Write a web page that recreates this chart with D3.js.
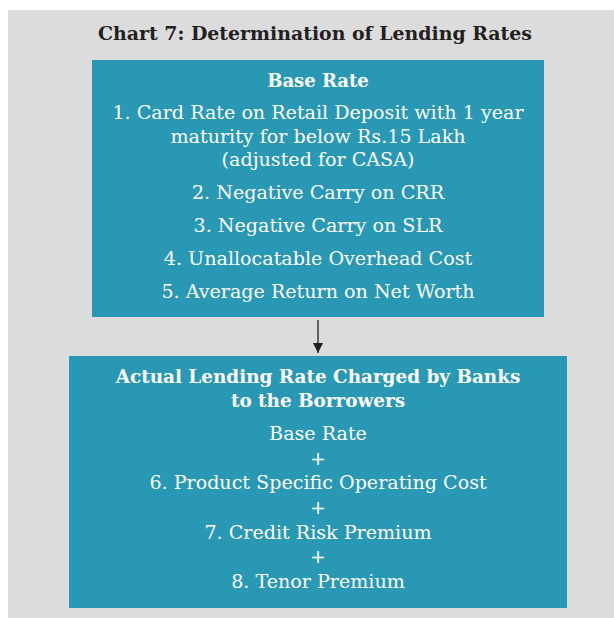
<!DOCTYPE html>
<html>
<head>
<meta charset="utf-8">
<script src="https://cdn.jsdelivr.net/npm/d3@7"></script>
<style>
  body { margin: 0; background: #fff; }
  svg { display: block; }
</style>
</head>
<body>
<svg id="chart"></svg>
<script>
// chart text
const title = "Chart 7: Determination of Lending Rates";
const baseHeader = ["Base Rate"];
const baseItems = [
  ["1. Card Rate on Retail Deposit with 1 year", "maturity for below Rs.15 Lakh", "(adjusted for CASA)"],
  ["2. Negative Carry on CRR"],
  ["3. Negative Carry on SLR"],
  ["4. Unallocatable Overhead Cost"],
  ["5. Average Return on Net Worth"]
];
const lendHeader = ["Actual Lending Rate Charged by Banks", "to the Borrowers"];
const lendItems = ["Base Rate", "+", "6. Product Specific Operating Cost", "+", "7. Credit Risk Premium", "+", "8. Tenor Premium"];

const W = 614, H = 618;
const teal = "#2898b4";
const font = "'DejaVu Serif', serif";

const svg = d3.select("#chart").attr("width", W).attr("height", H);

// grey panel
svg.append("rect").attr("x", 8).attr("y", 10).attr("width", W - 8).attr("height", H - 10)
  .attr("fill", "#dcdcdc");

const cx = 318;

svg.append("text").attr("x", 315).attr("y", 40)
  .attr("text-anchor", "middle").attr("font-family", font).attr("font-weight", "bold")
  .attr("font-size", 18.9).attr("fill", "#231f20").text(title);

// top box
svg.append("rect").attr("x", 92).attr("y", 60).attr("width", 452).attr("height", 257).attr("fill", teal);

// bottom box
svg.append("rect").attr("x", 69).attr("y", 356).attr("width", 498).attr("height", 252).attr("fill", teal);

// arrow
svg.append("defs").append("marker").attr("id", "ah")
  .attr("viewBox", "0 0 10 10").attr("refX", 10).attr("refY", 5)
  .attr("markerWidth", 10).attr("markerHeight", 10).attr("markerUnits", "userSpaceOnUse")
  .attr("orient", "auto")
  .append("path").attr("d", "M0,0L10,5L0,10Z").attr("fill", "#231f20");
svg.append("line").attr("x1", cx).attr("x2", cx).attr("y1", 320).attr("y2", 353)
  .attr("stroke", "#231f20").attr("stroke-width", 1.3).attr("marker-end", "url(#ah)");

// lines of the top box: header then items, items split across lines
const topLines = [];
topLines.push({ t: baseHeader[0], bold: true, y: 87, fs: 18 });
let y = 119;
baseItems.forEach((item, i) => {
  item.forEach((t, j) => {
    topLines.push({ t, bold: false, y, fs: 19.1 });
    y += j < item.length - 1 ? 23.5 : 0;
  });
  y += 33;
});

const botLines = [];
lendHeader.forEach((t, i) => botLines.push({ t, bold: true, y: 383 + i * 24, fs: 18.4 }));
const rowY = d3.scalePoint().domain(d3.range(lendItems.length)).range([440, 588]);
lendItems.forEach((t, i) => botLines.push({ t, bold: false, y: rowY(i), fs: 19.1 }));

svg.selectAll("text.line").data(topLines.concat(botLines)).join("text")
  .attr("class", "line")
  .attr("x", cx).attr("y", d => d.y)
  .attr("text-anchor", "middle")
  .attr("font-family", font)
  .attr("font-weight", d => d.bold ? "bold" : "normal")
  .attr("font-size", d => d.fs)
  .attr("fill", "#fff")
  .text(d => d.t);
</script>
</body>
</html>
